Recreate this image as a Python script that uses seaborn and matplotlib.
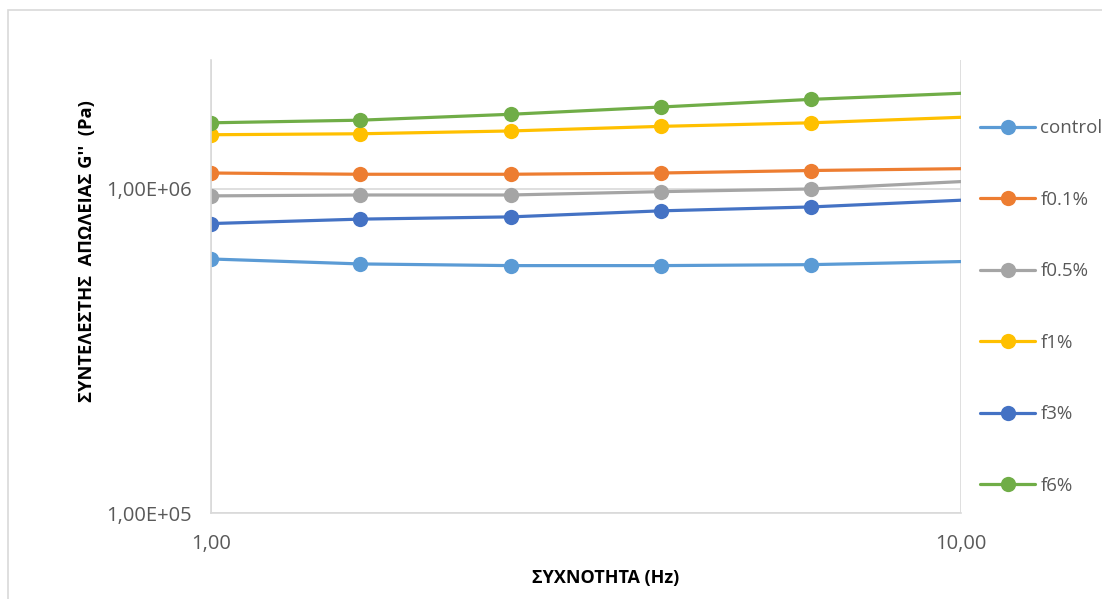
import pandas as pd
import seaborn as sns
import matplotlib.pyplot as plt
from matplotlib.patches import Rectangle

sns.set_theme(style="white")
plt.rcParams['font.family'] = ['Open Sans', 'DejaVu Sans']

# frequency (Hz); last point lies beyond the axis max and is clipped
freq = [1.0, 1.58, 2.51, 3.98, 6.31, 15.8]
series = ["control", "f0.1%", "f0.5%", "f1%", "f3%", "f6%"]
control = [6.08e5, 5.87e5, 5.80e5, 5.80e5, 5.84e5, 6.10e5]
f01 = [1.12e6, 1.11e6, 1.11e6, 1.12e6, 1.14e6, 1.17e6]
f05 = [9.52e5, 9.58e5, 9.58e5, 9.81e5, 1.00e6, 1.11e6]
f1 = [1.47e6, 1.48e6, 1.51e6, 1.56e6, 1.60e6, 1.73e6]
f3 = [7.82e5, 8.07e5, 8.20e5, 8.56e5, 8.80e5, 9.68e5]
f6 = [1.60e6, 1.63e6, 1.70e6, 1.79e6, 1.89e6, 2.06e6]
colors = ["#5B9BD5", "#ED7D31", "#A5A5A5", "#FFC000", "#4472C4", "#70AD47"]

df = pd.DataFrame({
    "freq": freq * 6,
    "G": control + f01 + f05 + f1 + f3 + f6,
    "series": [s for s in series for _ in freq],
})

fig = plt.figure(figsize=(11.02, 5.99), dpi=100)
ax = fig.add_axes([211 / 1102, 1 - 513 / 599, 750 / 1102, 453 / 599])

sns.lineplot(data=df, x="freq", y="G", hue="series", hue_order=series,
             palette=colors, marker="o", markersize=11, markeredgewidth=0,
             linewidth=2.3, estimator=None, ax=ax)

ax.set_xscale("log")
ax.set_yscale("log")
ax.set_xlim(1, 10)
ax.set_ylim(1e5, 2.5e6)
ax.set_xticks([1, 10])
ax.set_xticklabels(["1,00", "10,00"])
ax.set_yticks([1e5, 1e6])
ax.set_yticklabels(["1,00E+05", "1,00E+06"])
ax.minorticks_off()
ax.tick_params(axis="both", length=0, labelsize=14.5, labelcolor="#595959")
ax.tick_params(axis="x", pad=15)
ax.tick_params(axis="y", pad=14)
ax.grid(True, which="major", color="#D9D9D9", linewidth=1.2)
ax.set_axisbelow(True)
for side in ["top", "right"]:
    ax.spines[side].set_visible(False)
for side in ["left", "bottom"]:
    ax.spines[side].set_color("#D9D9D9")
    ax.spines[side].set_linewidth(1.2)
ax.set_xlabel("")
ax.set_ylabel("")

fig.text(606 / 1102, 1 - 578 / 599, "ΣΥΧΝΟΤΗΤΑ (Hz)", ha="center", va="center",
         fontsize=13, fontweight="bold", color="black")
fig.text(87 / 1102, 1 - 251 / 599, "ΣΥΝΤΕΛΕΣΤΗΣ  ΑΠΩΛΕΙΑΣ G''  (Pa)", ha="center",
         va="center", rotation=90, fontsize=13.2, fontweight="bold", color="black")

ax.legend(loc="upper left", bbox_to_anchor=(971 / 1102, 1 - 110 / 599),
          bbox_transform=fig.transFigure, frameon=False, fontsize=13.5,
          labelspacing=2.85, handlelength=2.9, handletextpad=0.3,
          borderpad=0, labelcolor="#595959")

fig.patches.append(Rectangle((8 / 1102, -0.1), 1.2, 1 - 10 / 599 + 0.1,
                             transform=fig.transFigure, fill=False,
                             edgecolor="#D9D9D9", linewidth=1.2))

fig.savefig("out.png", dpi=100, facecolor="white")
